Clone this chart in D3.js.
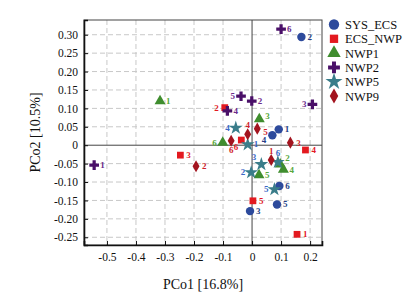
<!DOCTYPE html>
<html>
<head>
<meta charset="utf-8">
<script src="https://cdn.jsdelivr.net/npm/d3@7"></script>
<style>
	body { margin: 0; background: #fff; }
	svg { display: block; font-family: "Liberation Serif", "DejaVu Serif", serif; }
</style>
</head>
<body>
<div id="chart"></div>
<script>
// sample n is at index n-1, values are [PCo1, PCo2]
var groups = ["SYS_ECS", "ECS_NWP", "NWP1", "NWP2", "NWP5", "NWP9"];
var sysEcs = [[0.092, 0.043], [0.170, 0.294], [-0.007, -0.179], [0.070, 0.027], [0.086, -0.161], [0.094, -0.111]];
var ecsNwp = [[0.155, -0.242], [-0.094, 0.102], [-0.247, -0.027], [0.184, -0.013], [0.003, -0.151], [-0.037, 0.014]];
var nwp1 = [[-0.317, 0.120], [0.097, -0.052], [0.025, 0.071], [0.108, -0.066], [0.024, -0.081], [-0.101, 0.007]];
var nwp2 = [[-0.544, -0.054], [-0.001, 0.120], [0.208, 0.111], [-0.085, 0.093], [-0.038, 0.133], [0.100, 0.315]];
var nwp5 = [[-0.015, 0.002], [-0.003, -0.074], [0.032, -0.052], [-0.056, 0.047], [0.077, -0.120], [0.089, -0.046]];
var nwp9 = [[0.066, -0.040], [-0.193, -0.057], [0.132, 0.007], [-0.015, 0.030], [0.018, 0.045], [-0.072, 0.012]];
var xTicks = [-0.5, -0.4, -0.3, -0.2, -0.1, 0, 0.1, 0.2];
var yTicks = [-0.25, -0.2, -0.15, -0.1, -0.05, 0, 0.05, 0.1, 0.15, 0.2, 0.25, 0.3];

// where each sample label sits around its marker (layout only)
var labelSide = {
	SYS_ECS: ["r", "r", "r", "lb", "r", "r"],
	ECS_NWP: ["r", "l", "r", "r", "r", "bl"],
	NWP1: ["r", "tr", "rt", "r", "r", "l"],
	NWP2: ["r", "r", "l", "r", "l", "r"],
	NWP5: ["r", "l", "tl", "l", "l", "t"],
	NWP9: ["t", "r", "r", "t", "rd", "b"]
};

var series = [sysEcs, ecsNwp, nwp1, nwp2, nwp5, nwp9];
var styles = {
	SYS_ECS: {shape: d3.symbolCircle, size: 56, fill: "#2d4a9c", text: "#253f86"},
	ECS_NWP: {shape: d3.symbolSquare, size: 46, fill: "#e3191f", text: "#e3191f"},
	NWP1: {shape: d3.symbolTriangle, size: 52, fill: "#3f8d2e", text: "#58a83c"},
	NWP2: {shape: d3.symbolCross, size: 52, fill: "#4a1068", text: "#6b2c8c"},
	NWP5: {shape: d3.symbolStar, size: 60, fill: "#3a7d8a", text: "#3a68c6"},
	NWP9: {shape: d3.symbolDiamond, size: 42, fill: "#a3141f", text: "#cf1f2c"}
};

var W = 408, H = 298;
var margin = {top: 20, right: 86, bottom: 53, left: 84};
var width = W - margin.left - margin.right,
		height = H - margin.top - margin.bottom;

var x = d3.scaleLinear().domain([-0.579, 0.241]).range([0, width]);
var y = d3.scaleLinear().domain([-0.271, 0.340]).range([height, 0]);

var svg = d3.select("#chart").append("svg")
		.attr("width", W)
		.attr("height", H);
var g = svg.append("g")
		.attr("transform", "translate(" + margin.left + "," + margin.top + ")");

// dashed grid
g.append("g").selectAll("line").data(xTicks.filter(function(d) { return d !== 0; }))
	.enter().append("line")
		.attr("x1", function(d) { return x(d); }).attr("x2", function(d) { return x(d); })
		.attr("y1", 0).attr("y2", height)
		.attr("stroke", "#c8c8c8").attr("stroke-dasharray", "5,3");
g.append("g").selectAll("line").data(yTicks.filter(function(d) { return d !== 0; }))
	.enter().append("line")
		.attr("y1", function(d) { return y(d); }).attr("y2", function(d) { return y(d); })
		.attr("x1", 0).attr("x2", width)
		.attr("stroke", "#c8c8c8").attr("stroke-dasharray", "5,3");

// zero lines
g.append("line").attr("x1", x(0)).attr("x2", x(0)).attr("y1", 0).attr("y2", height)
	.attr("stroke", "#444").attr("stroke-width", 1);
g.append("line").attr("y1", y(0)).attr("y2", y(0)).attr("x1", 0).attr("x2", width)
	.attr("stroke", "#444").attr("stroke-width", 1);

// frame
g.append("rect").attr("width", width).attr("height", height)
	.attr("fill", "none").attr("stroke", "#444").attr("stroke-width", 1);

// axes, plain hyphen for negatives as in the original
var xAxis = d3.axisBottom(x).tickValues(xTicks).tickSize(-4).tickPadding(8)
	.tickFormat(function(d) { return d === 0 ? "0" : d.toFixed(1); });
var yAxis = d3.axisLeft(y).tickValues(yTicks).tickSize(-4).tickPadding(6)
	.tickFormat(function(d) { return d === 0 ? "0" : d.toFixed(2); });

var gx = g.append("g").attr("transform", "translate(0," + height + ")").call(xAxis);
var gy = g.append("g").call(yAxis);
[gx, gy].forEach(function(a) {
	a.select(".domain").attr("stroke", "#111").attr("stroke-width", 1.6);
	a.selectAll(".tick line").attr("stroke", "#111");
	a.selectAll(".tick text").attr("font-size", 11.5).attr("fill", "#111")
		.attr("font-family", "Liberation Serif, serif");
});

// axis titles
svg.append("text")
		.attr("x", margin.left + width / 2).attr("y", 289)
		.attr("text-anchor", "middle").attr("font-size", 14).attr("fill", "#111")
		.text("PCo1 [16.8%]");
svg.append("text")
		.attr("transform", "translate(40," + (margin.top + height / 2) + ") rotate(-90)")
		.attr("text-anchor", "middle").attr("font-size", 14).attr("fill", "#111")
		.text("PCo2 [10.5%]");

// points
var offsets = {
	r: [6, 3, "start"], l: [-6, 3, "end"], t: [0, -6, "middle"], b: [0, 12, "middle"],
	tr: [5, -3, "start"], tl: [-5, -4, "end"], bl: [-3, 10, "end"],
	lb: [-6, 8, "end"], rt: [6, 0, "start"], rd: [6, 6, "start"]
};

groups.forEach(function(name, i) {
	var st = styles[name];
	var pts = series[i].map(function(d, j) { return {x: d[0], y: d[1], n: j + 1, side: labelSide[name][j]}; });
	var sg = g.append("g").attr("class", "series");
	sg.selectAll("path").data(pts).enter().append("path")
			.attr("transform", function(d) { return "translate(" + x(d.x) + "," + y(d.y) + ")"; })
			.attr("d", d3.symbol().type(st.shape).size(st.size))
			.attr("fill", st.fill);
	sg.selectAll("text").data(pts).enter().append("text")
			.attr("x", function(d) { return x(d.x) + offsets[d.side][0]; })
			.attr("y", function(d) { return y(d.y) + offsets[d.side][1]; })
			.attr("text-anchor", function(d) { return offsets[d.side][2]; })
			.attr("font-size", 9).attr("font-weight", "bold")
			.attr("fill", st.text)
			.text(function(d) { return d.n; });
});

// legend
var legend = svg.append("g").attr("transform", "translate(334,24.5)");
groups.forEach(function(name, i) {
	var st = styles[name];
	var row = legend.append("g").attr("transform", "translate(0," + i * 14.3 + ")");
	row.append("path")
			.attr("d", d3.symbol().type(st.shape).size(st.size * 1.5))
			.attr("fill", st.fill);
	row.append("text").attr("x", 11).attr("y", 4.5)
			.attr("font-size", 12.5).attr("fill", "#111")
			.text(name);
});
</script>
</body>
</html>
